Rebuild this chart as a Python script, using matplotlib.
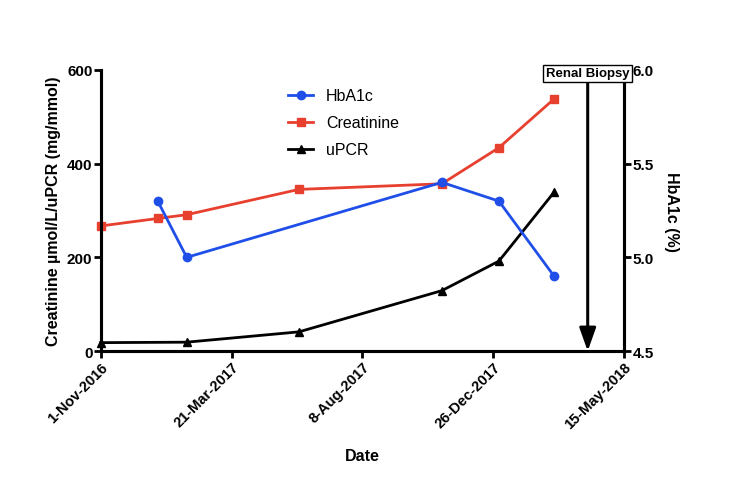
import numpy as np
import pandas as pd
import matplotlib
matplotlib.use("Agg")
import matplotlib.pyplot as plt
import matplotlib.dates as mdates

plt.rcParams['font.family'] = ['Liberation Sans', 'DejaVu Sans']

# data
creat_dates = ["2016-11-01", "2017-01-01", "2017-02-01", "2017-06-01",
               "2017-11-01", "2018-01-01", "2018-03-01"]
creatinine = [267, 283, 291, 345, 357, 434, 538]

upcr_dates = ["2016-11-01", "2017-02-01", "2017-06-01",
              "2017-11-01", "2018-01-01", "2018-03-01"]
upcr = [18, 19, 41, 129, 192, 339]

hba1c_dates = ["2017-01-01", "2017-02-01", "2017-11-01",
               "2018-01-01", "2018-03-01"]
hba1c = [5.3, 5.0, 5.4, 5.3, 4.9]

biopsy_date = "2018-04-06"
tick_dates = ["2016-11-01", "2017-03-21", "2017-08-08",
              "2017-12-26", "2018-05-15"]
tick_labels = ["1-Nov-2016", "21-Mar-2017", "8-Aug-2017",
               "26-Dec-2017", "15-May-2018"]

fig = plt.figure(figsize=(7.3, 4.89), dpi=100)
ax = fig.add_axes([0.138, 0.280, 0.717, 0.575])
ax2 = ax.twinx()

cd = pd.to_datetime(creat_dates)
ud = pd.to_datetime(upcr_dates)
hd = pd.to_datetime(hba1c_dates)

l_cr, = ax.plot(cd, creatinine, color='#e8402f', marker='s', ms=6,
                lw=2, label='Creatinine', clip_on=False, zorder=3)
l_up, = ax.plot(ud, upcr, color='black', marker='^', ms=6,
                lw=2, label='uPCR', clip_on=False, zorder=3)
l_hb, = ax2.plot(hd, hba1c, color='#1f4fe8', marker='o', ms=6,
                 lw=2, label='HbA1c', clip_on=False, zorder=3)

xmin = pd.Timestamp(tick_dates[0])
xmax = pd.Timestamp(tick_dates[-1])
ax.set_xlim(xmin, xmax)
ax.set_ylim(0, 600)
ax2.set_ylim(4.5, 6.0)

ax.set_xticks(pd.to_datetime(tick_dates))
ax.set_xticklabels(tick_labels, rotation=45, ha='right',
                   rotation_mode='anchor', fontweight='bold', fontsize=10.5)
ax.set_yticks([0, 200, 400, 600])
ax.set_yticklabels(['0', '200', '400', '600'], fontweight='bold', fontsize=11)
ax2.set_yticks([4.5, 5.0, 5.5, 6.0])
ax2.set_yticklabels(['4.5', '5.0', '5.5', '6.0'], fontweight='bold', fontsize=11)

for a in (ax, ax2):
    for s in ('left', 'right', 'bottom'):
        a.spines[s].set_linewidth(2.2)
    a.spines['top'].set_visible(False)
    a.tick_params(width=2, length=5, pad=1)

ax.set_xlabel('Date', fontweight='bold', fontsize=11.5, labelpad=12)
ax.set_ylabel('Creatinine µmol/L/uPCR (mg/mmol)', fontweight='bold',
              fontsize=11.5, labelpad=4)
ax2.set_ylabel('HbA1c (%)', fontweight='bold', fontsize=11.5,
               rotation=-90, labelpad=18)

# renal biopsy arrow
bx = pd.Timestamp(biopsy_date)
ax2.annotate('', xy=(bx, 4.5), xytext=(bx, 5.95),
             arrowprops=dict(arrowstyle='-|>,head_width=0.5,head_length=1.4',
                             color='black', lw=2.2, shrinkA=0, shrinkB=0))
ax2.text(bx, 5.95, 'Renal Biopsy', ha='center', va='bottom',
         fontsize=9.5, fontweight='bold',
         bbox=dict(boxstyle='square,pad=0.2', fc='white', ec='black', lw=1))

ax.legend([l_hb, l_cr, l_up], ['HbA1c', 'Creatinine', 'uPCR'],
          loc='upper left', bbox_to_anchor=(0.33, 0.985), frameon=False,
          fontsize=11.5, handlelength=1.6, labelspacing=0.75)

fig.savefig('out.png', dpi=100)
